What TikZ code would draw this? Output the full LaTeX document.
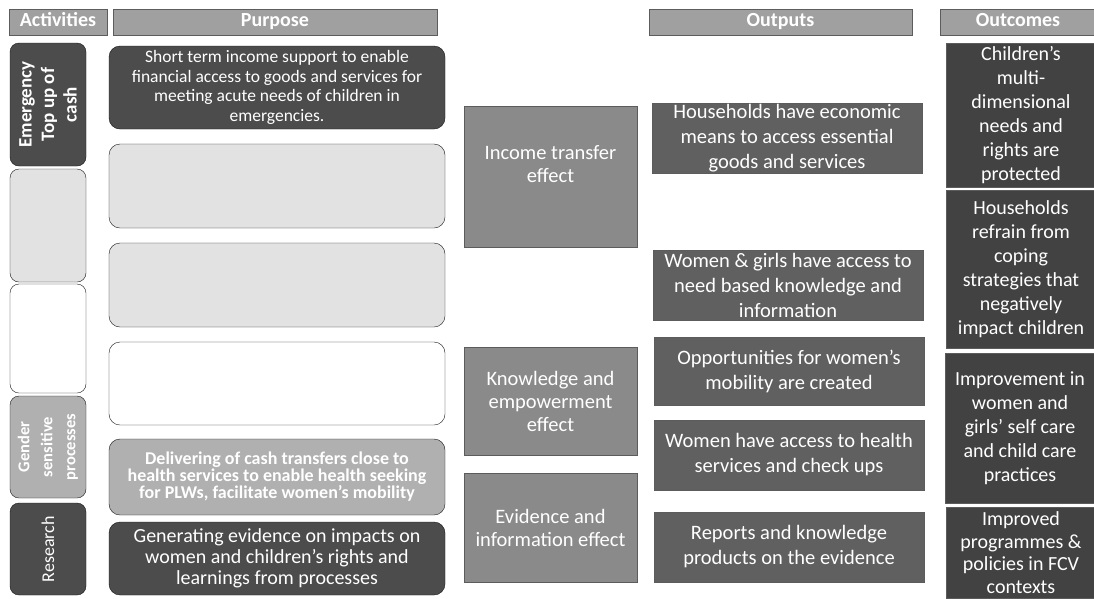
\documentclass[tikz,border=0pt]{standalone}
\usepackage{fontspec}
\setmainfont{Carlito}
\usepackage{xcolor}
\usepackage{tikz}
\definecolor{ink}{RGB}{22,22,22}
\definecolor{headgray}{RGB}{160,160,160}
\definecolor{darkfill}{RGB}{76,76,76}
\definecolor{effgray}{RGB}{138,138,138}
\definecolor{outgray}{RGB}{96,96,96}
\definecolor{resgray}{RGB}{66,66,66}
\definecolor{palegray}{RGB}{226,226,226}
\definecolor{softgray}{RGB}{176,176,176}
\tikzset{
  header/.style={draw=ink!70,fill=headgray,text=white,inner sep=0pt,
    minimum height=26pt,text height=13pt,text depth=4pt,
    font=\bfseries\fontsize{20}{22}\selectfont},
  actbox/.style={draw=ink,rounded corners=9pt,inner sep=0pt,align=center,
    minimum height=76pt,text=white},
  purbox/.style={draw=ink,rounded corners=11pt,inner sep=0pt,align=center,
    minimum width=336pt,text=white,font=\fontsize{17.5}{19.5}\selectfont},
  effbox/.style={draw=ink!70,fill=effgray,inner sep=0pt,align=center,
    minimum width=173pt,text=white,font=\fontsize{20.5}{23}\selectfont},
  outbox/.style={draw=ink!70,fill=outgray,inner sep=0pt,align=center,
    minimum width=270pt,minimum height=70pt,text=white,
    font=\fontsize{20.5}{25}\selectfont},
  resbox/.style={draw=ink!70,fill=resgray,inner sep=0pt,align=center,
    minimum width=150pt,text=white,font=\fontsize{20}{24}\selectfont}
}

\begin{document}
\begin{tikzpicture}[x=1pt,y=-1pt]
  \useasboundingbox (0,0) rectangle (1094,598);
  \fill[white] (0,0) rectangle (1094,598);
  \clip (0,0) rectangle (1094,598);
  % column heads
  \node[header,minimum width=98pt]  (hact) at (58,22)    {Activities};
  \node[header,minimum width=324pt] (hpur) at (275,22)   {Purpose};
  \node[header,minimum width=263pt] (hout) at (780.5,22) {Outputs};
  \node[header,minimum width=156pt] (hres) at (1018,22)  {Outcomes};
  % activities
  \node[actbox,rotate=90,fill=darkfill,minimum width=123pt,
    font=\bfseries\fontsize{19}{22.5}\selectfont] (emerg) at (48,104.5)
    {Emergency\\Top up of\\cash};
  \node[actbox,rotate=90,fill=palegray,minimum width=113pt] (act2) at (48,225.5) {};
  \node[actbox,rotate=90,fill=white,minimum width=109pt] (act3) at (48,338.5) {};
  \node[actbox,rotate=90,fill=softgray,minimum width=102pt,
    font=\bfseries\fontsize{16.5}{23}\selectfont] (gender) at (48,447)
    {Gender\\sensitive\\processes};
  \node[actbox,rotate=90,fill=darkfill,minimum width=92pt,
    font=\fontsize{18}{22}\selectfont] (research) at (48,549) {Research};
  % purpose
  \node[purbox,fill=darkfill,minimum height=83pt] (pur1) at (277,87.5)
    {Short term income support to enable\\financial access to goods and services for\\
     meeting acute needs of children in\\emergencies.};
  \node[purbox,fill=palegray,minimum height=84pt] (pur2) at (277,186) {};
  \node[purbox,fill=palegray,minimum height=84pt] (pur3) at (277,285) {};
  \node[purbox,fill=white,minimum height=83pt] (pur4) at (277,383.5) {};
  \node[purbox,fill=softgray,minimum height=76pt,
    font=\bfseries\fontsize{18}{17}\selectfont] (pur5) at (277,477)
    {Delivering of cash transfers close to\\health services to enable health seeking\\
     for PLWs, facilitate women’s mobility};
  \node[purbox,fill=darkfill,minimum height=73pt,
    font=\fontsize{20}{21}\selectfont] (pur6) at (277,558.5)
    {Generating evidence on impacts on\\women and children’s rights and\\learnings from processes};
  % effects
  \node[effbox,minimum height=141pt,text depth=26pt] (income) at (550.5,176.5) {Income transfer\\effect};
  \node[effbox,minimum height=108pt] (knowl) at (550.5,401) {Knowledge and\\empowerment\\effect};
  \node[effbox,minimum height=109pt] (evid) at (550.5,527.5) {Evidence and\\information effect};
  % outputs
  \node[outbox] (means)  at (787,138) {Households have economic\\means to access essential\\goods and services};
  \node[outbox] (access) at (788,285) {Women \& girls have access to\\need based knowledge and\\information};
  \node[outbox,minimum height=68pt] (mobil) at (789,371) {Opportunities for women’s\\mobility  are created};
  \node[outbox] (health) at (789,455) {Women have access to health\\services and check ups};
  \node[outbox] (reports) at (789,547) {Reports and knowledge\\products on the evidence};
  % outcomes
  \node[resbox,minimum height=144pt] (rights) at (1021,115)
    {Children’s\\multi-\\dimensional\\needs and\\rights are\\protected};
  \node[resbox,minimum height=158pt] (coping) at (1021,269)
    {Households\\refrain from\\coping\\strategies that\\negatively\\impact children};
  \node[resbox,minimum height=150pt] (selfcare) at (1020,428)
    {Improvement in\\women and\\girls’ self care\\and child care\\practices};
  \node[resbox,minimum height=91pt,font=\fontsize{20}{22.5}\selectfont] (policy) at (1021,552.5)
    {Improved\\programmes \&\\policies in FCV\\contexts};
\end{tikzpicture}
\end{document}
